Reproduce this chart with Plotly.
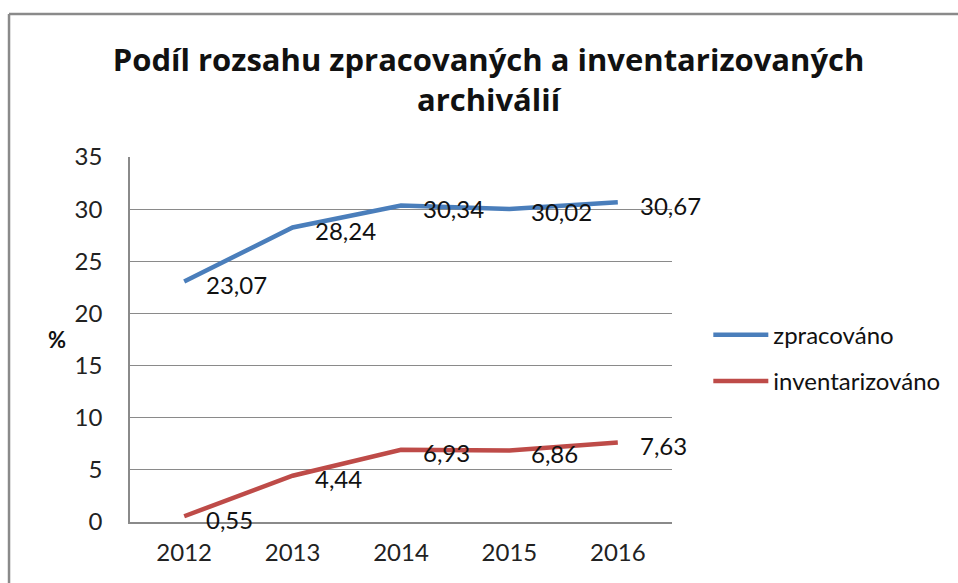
import plotly.graph_objects as go

years = ["2012", "2013", "2014", "2015", "2016"]
zpracovano = [23.07, 28.24, 30.34, 30.02, 30.67]
inventarizovano = [0.55, 4.44, 6.93, 6.86, 7.63]
series_names = ["zpracováno", "inventarizováno"]
y_ticks = [0, 5, 10, 15, 20, 25, 30, 35]
title_text = "Podíl rozsahu zpracovaných a inventarizovaných<br>archiválií"

colors = ["#4A7EBB", "#BE4B48"]
FONT = "Lato, Calibri, Carlito, sans-serif"

fig = go.Figure()
for name, vals, col in zip(series_names, [zpracovano, inventarizovano], colors):
    fig.add_trace(go.Scatter(x=years, y=vals, mode="lines", name=name,
                             legendgroup=name,
                             line=dict(color=col, width=4.5)))
    for i, yv in enumerate(vals):
        fig.add_annotation(x=i, y=yv, text=f"{yv:.2f}".replace(".", ","),
                           showarrow=False, xanchor="left", yanchor="middle",
                           xshift=20, yshift=-3,
                           font=dict(family=FONT, size=24, color="#111"))

fig.add_annotation(xref="paper", yref="paper", x=-0.135, y=0.50, text="<b>%</b>",
                   showarrow=False, xanchor="center", yanchor="middle",
                   font=dict(family=FONT, size=22, color="#111"))

# chart frame: only top and left edges are visible in the crop
fig.add_shape(type="line", xref="paper", yref="paper",
              x0=-0.2232, x1=1.8, y0=1.392, y1=1.392,
              line=dict(color="#8a8a8a", width=2.5), layer="below")
fig.add_shape(type="line", xref="paper", yref="paper",
              x0=-0.2232, x1=-0.2232, y0=-0.3, y1=1.392,
              line=dict(color="#8a8a8a", width=2.5), layer="below")

fig.update_layout(
    width=958, height=583,
    margin=dict(l=130, r=286, t=157, b=61),
    paper_bgcolor="white", plot_bgcolor="white",
    title=dict(text=f"<b>{title_text}</b>", x=0.51, xanchor="center",
               y=0.879, yanchor="middle",
               font=dict(family="Open Sans, sans-serif", size=31, color="#111")),
    font=dict(family=FONT, size=24, color="#222"),
    xaxis=dict(type="category", range=[-0.5, 4.5], showgrid=False, showline=True,
               linecolor="#8a8a8a", linewidth=1.5, ticks="",
               tickfont=dict(size=24), ticklabelstandoff=8),
    yaxis=dict(range=[0, 35], tickvals=y_ticks, showgrid=True, gridcolor="#8a8a8a",
               gridwidth=1.2, showline=True, linecolor="#8a8a8a", linewidth=1.5,
               ticks="", tickfont=dict(size=24), ticklabelstandoff=21, zeroline=False),
    legend=dict(x=1.067, y=0.449, xanchor="left", yanchor="middle",
                font=dict(family=FONT, size=24, color="#111"),
                itemwidth=55, tracegroupgap=12, bgcolor="rgba(0,0,0,0)"),
    showlegend=True,
)

fig.write_html("out.html", config={"displayModeBar": False},
               post_script="document.body.style.margin='0';document.body.style.overflow='hidden';")
